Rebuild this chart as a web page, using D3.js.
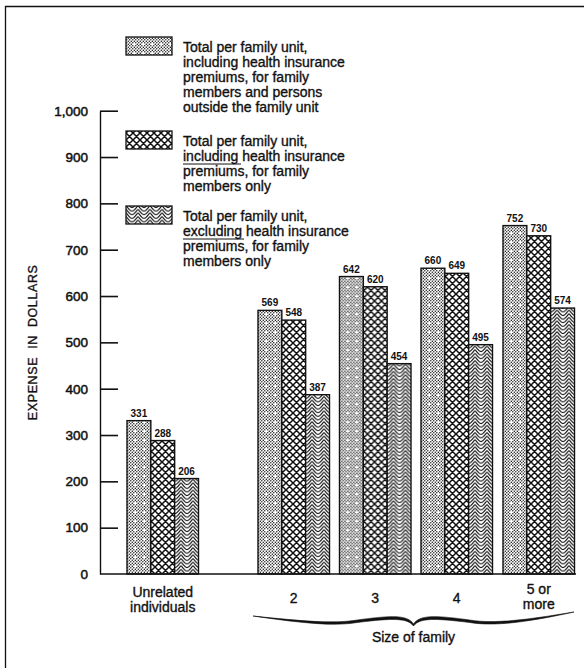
<!DOCTYPE html>
<html>
<head>
<meta charset="utf-8">
<script src="https://d3js.org/d3.v7.min.js"></script>
<style>
  body { margin: 0; background: #fff; }
  text { font-family: "Liberation Sans", Arial, sans-serif; fill: #111; }
  .med { stroke: #111; stroke-width: 0.35px; }
</style>
</head>
<body>
<svg id="chart" width="585" height="668"></svg>
<script>
// data
var categories = ["Unrelated individuals", "2", "3", "4", "5 or more"];
var series = ["withOutside", "inclPremiums", "exclPremiums"];
var withOutside = [331, 569, 642, 660, 752];
var inclPremiums = [288, 548, 620, 649, 730];
var exclPremiums = [206, 387, 454, 495, 574];
var yTicks = [0, 100, 200, 300, 400, 500, 600, 700, 800, 900, 1000];
var catLabels = [["Unrelated", "individuals"], ["2"], ["3"], ["4"], ["5 or", "more"]];
var legendText = [
  ["Total per family unit,", "including health insurance", "premiums, for family", "members and persons", "outside the family unit"],
  ["Total per family unit,", "including health insurance", "premiums, for family", "members only"],
  ["Total per family unit,", "excluding health insurance", "premiums, for family", "members only"]
];

var values = { withOutside: withOutside, inclPremiums: inclPremiums, exclPremiums: exclPremiums };

var svg = d3.select("#chart");

// frame
svg.append("path")
  .attr("d", "M5.5,670 L5.5,6.5 L584,6.5")
  .attr("fill", "none").attr("stroke", "#111").attr("stroke-width", 1.3);

// ---- patterns
var defs = svg.append("defs");

var dots = defs.append("pattern").attr("id", "pat-dots")
  .attr("patternUnits", "userSpaceOnUse").attr("width", 9).attr("height", 9);
dots.append("rect").attr("width", 9).attr("height", 9).attr("fill", "#fff");
[[0.8,0.8],[3.8,0.8],[6.8,0.8],[2.3,2.3],[5.3,2.3],[8.3,2.3],[0.8,3.8],[3.8,3.8],[6.8,3.8],
 [2.3,5.3],[5.3,5.3],[8.3,5.3],[0.8,6.8],[3.8,6.8],[6.8,6.8],[2.3,8.3],[5.3,8.3]]
  .forEach(function (p) {
    dots.append("circle").attr("cx", p[0]).attr("cy", p[1]).attr("r", 0.72).attr("fill", "#111");
  });

var cross = defs.append("pattern").attr("id", "pat-cross")
  .attr("patternUnits", "userSpaceOnUse").attr("width", 7).attr("height", 7);
cross.append("rect").attr("width", 7).attr("height", 7).attr("fill", "#fff");
cross.append("path").attr("d", "M-1,-1 L8,8 M-1,8 L8,-1 M-4.5,2.5 L2.5,-4.5 M4.5,11.5 L11.5,4.5 M-4.5,4.5 L2.5,11.5 M4.5,-4.5 L11.5,2.5")
  .attr("stroke", "#111").attr("stroke-width", 1.5).attr("fill", "none");

// chevron waves
var wave = defs.append("pattern").attr("id", "pat-wave")
  .attr("patternUnits", "userSpaceOnUse").attr("width", 12).attr("height", 3.6);
wave.append("rect").attr("width", 12).attr("height", 3.6).attr("fill", "#fff");
[-3.6, 0, 3.6, 7.2].forEach(function (o) {
  wave.append("path")
    .attr("d", "M0," + (o + 2.4) + " Q1.5," + (o + 2.4) + " 3," + (o + 0.4) + " L5.3," + (o - 2.4) +
      " Q6," + (o - 3.1) + " 6.7," + (o - 2.4) + " L9," + (o + 0.4) + " Q10.5," + (o + 2.4) + " 12," + (o + 2.4))
    .attr("stroke", "#111").attr("stroke-width", 1.2).attr("fill", "none");
});

var fills = { withOutside: "url(#pat-dots)", inclPremiums: "url(#pat-cross)", exclPremiums: "url(#pat-wave)" };

// ---- scales
var x = d3.scaleOrdinal().domain(categories).range([127, 258, 339.5, 421, 503]);
var xs = d3.scaleBand().domain(series).range([0, 71.5]);
var y = d3.scaleLinear().domain([0, 1000]).range([574, 110.7]);

// ---- axes
svg.append("g")
  .attr("transform", "translate(100,0)")
  .call(d3.axisLeft(y).tickValues(yTicks).tickSize(0).tickPadding(12).tickFormat(d3.format(",")))
  .call(function (g) {
    g.select(".domain").attr("stroke", "#111").attr("stroke-width", 1.4);
    g.selectAll("text").style("font-family", "Liberation Sans, Arial, sans-serif")
      .style("font-size", "13.5px").attr("fill", "#111").attr("stroke", "#111").attr("stroke-width", 0.5);
  });

svg.append("g")
  .attr("transform", "translate(100,0)")
  .call(d3.axisRight(y).tickValues(yTicks.slice(1)).tickSize(18).tickFormat(""))
  .call(function (g) {
    g.select(".domain").remove();
    g.selectAll("line").attr("stroke", "#111").attr("stroke-width", 1.6);
  });

svg.append("text").attr("class", "med")
  .attr("transform", "translate(37," + y(500) + ") rotate(-90)")
  .attr("text-anchor", "middle")
  .style("font-size", "12.5px")
  .style("letter-spacing", "0.6px")
  .style("word-spacing", "4px")
  .text("EXPENSE IN DOLLARS");

// ---- bars
var groups = svg.append("g").selectAll("g")
  .data(categories)
  .enter().append("g")
  .attr("transform", function (d) { return "translate(" + x(d) + ",0)"; });

groups.selectAll("rect")
  .data(function (d, i) { return series.map(function (s) { return { s: s, v: values[s][i] }; }); })
  .enter().append("rect")
  .attr("x", function (d) { return xs(d.s); })
  .attr("y", function (d) { return y(d.v); })
  .attr("width", xs.bandwidth())
  .attr("height", function (d) { return y(0) - y(d.v); })
  .attr("fill", function (d) { return fills[d.s]; })
  .attr("stroke", "#111").attr("stroke-width", 1.4);

groups.selectAll("text.val")
  .data(function (d, i) { return series.map(function (s) { return { s: s, v: values[s][i] }; }); })
  .enter().append("text").attr("class", "val")
  .attr("x", function (d) { return xs(d.s) + xs.bandwidth() / 2; })
  .attr("y", function (d) { return y(d.v) - 4; })
  .attr("text-anchor", "middle")
  .style("font-size", "10px").style("font-weight", "bold")
  .text(function (d) { return d.v; });

// baseline
svg.append("line")
  .attr("x1", 100).attr("x2", x(categories[4]) + 73)
  .attr("y1", y(0)).attr("y2", y(0))
  .attr("stroke", "#111").attr("stroke-width", 1.6);

// category labels
catLabels.forEach(function (lines, i) {
  var cx = x(categories[i]) + 35.75;
  var y0 = lines.length === 1 ? 603 : (i === 0 ? 597 : 594);
  lines.forEach(function (t, j) {
    svg.append("text").attr("class", "med").attr("x", cx).attr("y", y0 + j * 15)
      .attr("text-anchor", "middle").style("font-size", "14px").text(t);
  });
});

// brace under family sizes
var bx0 = x("2") - 5, bx1 = x("5 or more") + 71, bm = (bx0 + bx1) / 2;
var bq = (bm - bx0) / 2;
svg.append("path")
  .attr("d",
    "M" + bx0 + ",616 C" + (bx0 + bq * 0.6) + ",621 " + (bx0 + bq) + ",624 " + (bx0 + bq * 1.3) + ",620" +
    " C" + (bm - 20) + ",615 " + (bm - 6) + ",615 " + bm + ",624" +
    " C" + (bm + 6) + ",615 " + (bm + 20) + ",615 " + (bx1 - bq * 1.3) + ",620" +
    " C" + (bx1 - bq) + ",624 " + (bx1 - bq * 0.6) + ",620 " + bx1 + ",612" +
    " C" + (bx1 - bq * 0.6) + ",622.5 " + (bx1 - bq) + ",626.5 " + (bx1 - bq * 1.3) + ",622.5" +
    " C" + (bm + 20) + ",618 " + (bm + 6) + ",618 " + bm + ",626" +
    " C" + (bm - 6) + ",618 " + (bm - 20) + ",618 " + (bx0 + bq * 1.3) + ",622.5" +
    " C" + (bx0 + bq) + ",626.5 " + (bx0 + bq * 0.6) + ",623 " + bx0 + ",616 Z")
  .attr("fill", "#111").attr("stroke", "#111").attr("stroke-width", 0.6);

svg.append("text").attr("class", "med").attr("x", bm).attr("y", 642)
  .attr("text-anchor", "middle").style("font-size", "14px").text("Size of family");

// ---- legend
var legTop = [37, 131, 206];
var legendKeys = ["withOutside", "inclPremiums", "exclPremiums"];
legendKeys.forEach(function (k, i) {
  svg.append("rect")
    .attr("x", 126).attr("y", legTop[i]).attr("width", 46).attr("height", 18)
    .attr("fill", fills[k]).attr("stroke", "#111").attr("stroke-width", 1.3);
  legendText[i].forEach(function (t, j) {
    svg.append("text").attr("class", "med").attr("x", 183).attr("y", legTop[i] + 14.5 + j * 15)
      .style("font-size", "14px").text(t);
  });
});
// underlines on "including" / "excluding"
[[1, 183, 241], [2, 183, 244]].forEach(function (u) {
  var yy = legTop[u[0]] + 14.5 + 15 + 3.5;
  svg.append("line").attr("x1", u[1]).attr("x2", u[2]).attr("y1", yy).attr("y2", yy)
    .attr("stroke", "#111").attr("stroke-width", 1);
});
</script>
</body>
</html>
